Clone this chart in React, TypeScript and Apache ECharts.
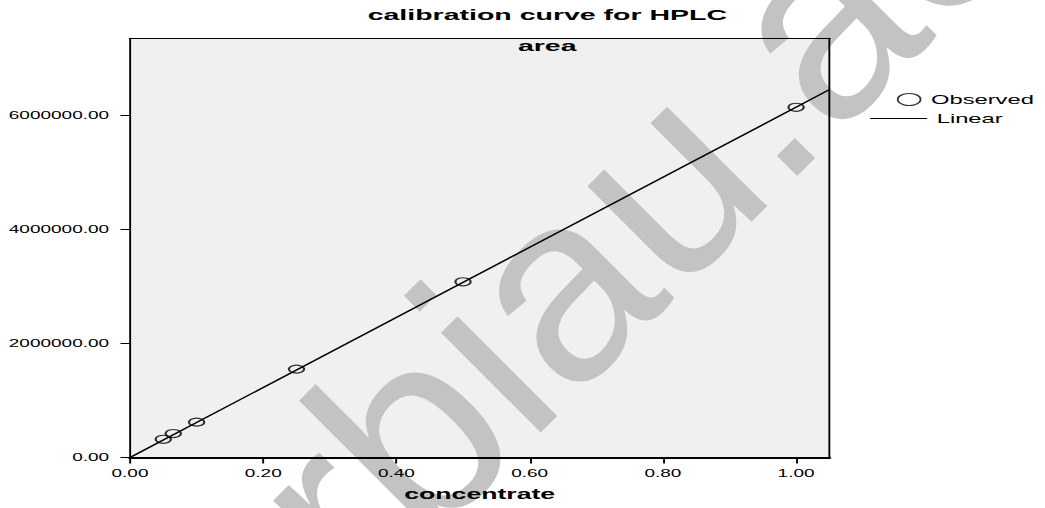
import React, { useEffect, useRef } from "react";
import * as echarts from "echarts";

// Observed calibration points (concentration, peak area)
const concentrations = [0.05, 0.065, 0.1, 0.25, 0.5, 1.0];
const areas = [319000, 420000, 620000, 1550000, 3080000, 6140000];
// Linear fit end points
const fitConcentrations = [0, 1.05];
const fitAreas = [0, 6450000];
// Axes
const xTicks = [0, 0.2, 0.4, 0.6, 0.8, 1.0];
const yTicks = [0, 2000000, 4000000, 6000000];
const xRange = [0, 1.05];
const yRange = [0, 7350000];

const STRETCH = 1.9; // the reference is horizontally stretched
const W = 1045 / STRETCH;
const H = 508;
const FONT = '"Liberation Sans", Arial, sans-serif';

export default function App() {
  const ref = useRef<HTMLDivElement>(null);

  useEffect(() => {
    if (!ref.current) return;
    const chart = echarts.init(ref.current, null, { renderer: "svg" });
    const fmt = (v: number) => v.toFixed(2);
    const option: any = {
      animation: false,
      backgroundColor: "#ffffff",
      title: {
        text: "calibration curve for HPLC",
        left: 193.5,
        top: 7.5,
        padding: 0,
        textStyle: { fontFamily: FONT, fontSize: 15, fontWeight: "bold", color: "#000" },
      },
      legend: [
        {
          data: ["Observed"],
          left: 472,
          top: 93,
          padding: 0,
          itemWidth: 13,
          itemHeight: 12,
          selectedMode: false,
          itemStyle: { borderWidth: 1 },
          textStyle: { fontFamily: FONT, fontSize: 12.5, color: "#000" },
        },
        {
          data: [
            {
              name: "Linear",
              icon: "path://M0,0L0,0M0,5.4L30,5.4L30,6.6L0,6.6ZM30,12L30,12",
            },
          ],
          left: 458,
          top: 112,
          padding: 0,
          itemWidth: 30,
          itemHeight: 12,
          selectedMode: false,
          textStyle: { fontFamily: FONT, fontSize: 12.5, color: "#000" },
        },
      ],
      grid: {
        left: 130 / STRETCH,
        right: W - 829.4 / STRETCH,
        top: 38.3,
        bottom: H - 457.5,
        show: true,
        backgroundColor: "#f0f0f0",
        borderWidth: 0,
        z: 0,
      },
      xAxis: [
        {
          type: "value",
          min: xRange[0],
          max: xRange[1],
          z: 3,
          name: "concentrate",
          nameLocation: "middle",
          nameGap: 30,
          nameTextStyle: { fontFamily: FONT, fontSize: 14, fontWeight: "bold", color: "#000" },
          axisLine: { onZero: false, lineStyle: { color: "#000", width: 2 } },
          axisTick: { length: 6, customValues: xTicks, lineStyle: { color: "#000", width: 1 } },
          axisLabel: {
            customValues: xTicks,
            formatter: fmt,
            margin: 11,
            fontFamily: FONT,
            fontSize: 10,
            color: "#000",
          },
          splitLine: { show: false },
        },
        {
          type: "value",
          position: "top",
          min: xRange[0],
          max: xRange[1],
          z: 3,
          axisLine: { show: true, onZero: false, lineStyle: { color: "#000", width: 1 } },
          axisTick: { show: false },
          axisLabel: { show: false },
          splitLine: { show: false },
        },
      ],
      yAxis: [
        {
          type: "value",
          min: yRange[0],
          max: yRange[1],
          z: 3,
          axisLine: { show: true, onZero: false, lineStyle: { color: "#000", width: 1 } },
          axisTick: { show: true, length: 5, customValues: yTicks, lineStyle: { color: "#000", width: 1 } },
          axisLabel: {
            customValues: yTicks,
            formatter: fmt,
            margin: 11,
            fontFamily: FONT,
            fontSize: 10,
            color: "#000",
          },
          splitLine: { show: false },
        },
        {
          type: "value",
          position: "right",
          min: yRange[0],
          max: yRange[1],
          z: 3,
          axisLine: { show: true, onZero: false, lineStyle: { color: "#000", width: 1 } },
          axisTick: { show: false },
          axisLabel: { show: false },
          splitLine: { show: false },
        },
      ],
      series: [
        {
          name: "Observed",
          type: "scatter",
          data: concentrations.map((c, i) => [c, areas[i]]),
          symbol: "circle",
          symbolSize: 8,
          itemStyle: { color: "rgba(0,0,0,0)", borderColor: "#000", borderWidth: 1.15 },
          z: 5,
          silent: true,
        },
        {
          name: "Linear",
          type: "line",
          data: fitConcentrations.map((c, i) => [c, fitAreas[i]]),
          showSymbol: false,
          symbol: "none",
          lineStyle: { color: "#000", width: 1.2 },
          itemStyle: { color: "#000" },
          z: 4,
          silent: true,
        },
      ],
      graphic: [
        {
          type: "group",
          scaleX: 1 / STRETCH,
          z: 1,
          silent: true,
          children: [
            {
              type: "text",
              x: 200.5,
              y: 642,
              rotation: Math.PI / 4,
              z: 1,
              style: {
                text: "srbiau.ac.ir",
                fontSize: 267,
                fontFamily: FONT,
                fill: "#c3c3c3",
                textAlign: "left",
                textVerticalAlign: "middle",
              },
            },
          ],
        },
        {
          type: "text",
          x: 288,
          y: 46,
          z: 5,
          style: {
            text: "area",
            fontSize: 15,
            fontWeight: "bold",
            fontFamily: FONT,
            fill: "#000",
            textAlign: "center",
            textVerticalAlign: "middle",
          },
        },
      ],
    };
    chart.setOption(option);
    return () => chart.dispose();
  }, []);

  return (
    <div
      ref={ref}
      style={{
        position: "fixed",
        left: 0,
        top: 0,
        width: W,
        height: H,
        transform: `scaleX(${STRETCH})`,
        transformOrigin: "0 0",
      }}
    />
  );
}
